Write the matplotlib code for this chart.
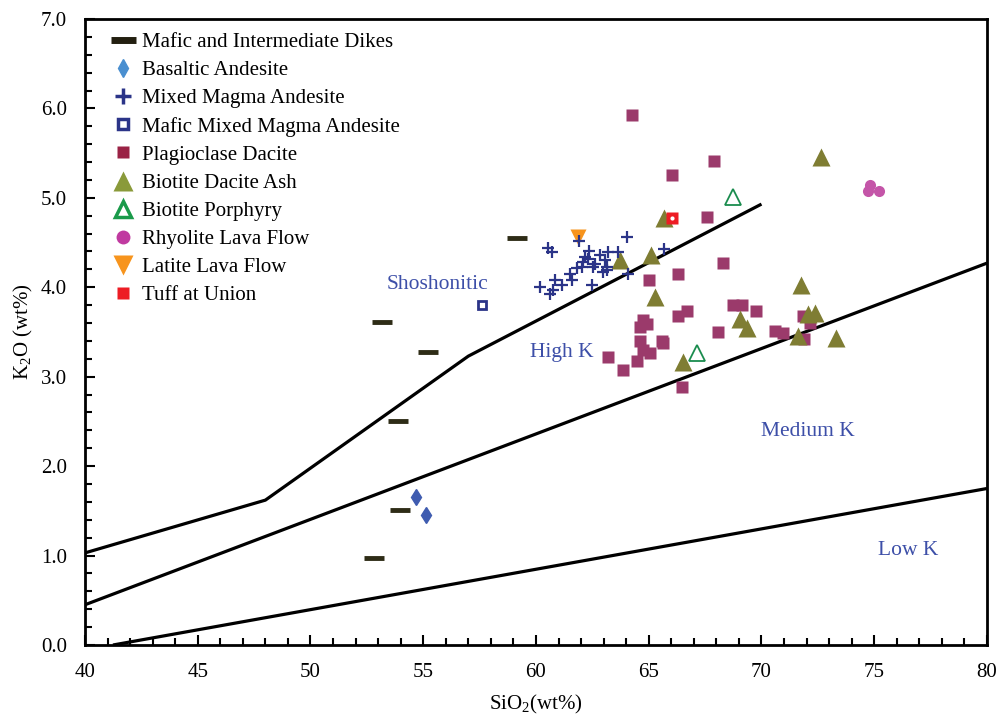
import matplotlib

matplotlib.use("Agg")

import matplotlib.pyplot as plt  # noqa: E402
from matplotlib.lines import Line2D  # noqa: E402
from matplotlib.ticker import MultipleLocator, FormatStrFormatter  # noqa: E402

plt.rcParams["font.family"] = ["Liberation Serif", "DejaVu Serif"]
plt.rcParams["mathtext.default"] = "regular"

# K2O vs SiO2 field boundaries
sho_x = [40, 48, 57, 70]
sho_y = [1.03, 1.62, 3.23, 4.93]
hk_x = [40, 80]
hk_y = [0.45, 4.27]
mk_x = [41.24, 80]
mk_y = [0.0, 1.75]

# samples (SiO2, K2O)
dike_si = [53.19, 55.19, 53.90, 53.99, 52.82, 59.18]
dike_k = [3.61, 3.28, 2.50, 1.51, 0.97, 4.55]

bas_si = [54.68, 55.12]
bas_k = [1.65, 1.45]

mix_si = [64.05, 60.55, 60.72, 61.92, 62.35, 63.21, 63.65, 65.68, 62.17, 62.84,
          63.06, 62.10, 62.03, 62.62, 62.54, 61.80, 62.98, 63.13, 61.51, 61.58,
          60.84, 61.14, 60.77, 60.18, 60.62, 62.47, 64.09, 63.16, 62.32]
mix_k = [4.56, 4.44, 4.39, 4.52, 4.41, 4.39, 4.39, 4.43, 4.34, 4.36,
         4.30, 4.28, 4.23, 4.26, 4.23, 4.21, 4.17, 4.19, 4.15, 4.08,
         4.08, 4.02, 3.97, 4.00, 3.92, 4.02, 4.15, 4.23, 4.32]

mafmix_si = [57.62]
mafmix_k = [3.80]

plag_si = [64.24, 67.89, 66.03, 67.60, 68.28, 66.31, 65.02, 66.68, 66.31, 68.72,
           69.14, 69.76, 64.76, 64.91, 64.61, 68.07, 64.61, 65.57, 65.65, 64.76,
           65.06, 63.21, 64.46, 63.87, 66.46, 70.60, 70.97, 71.82, 72.15, 71.89]
plag_k = [5.93, 5.41, 5.25, 4.79, 4.27, 4.15, 4.08, 3.74, 3.68, 3.80,
          3.80, 3.74, 3.63, 3.59, 3.56, 3.50, 3.40, 3.40, 3.38, 3.30,
          3.26, 3.22, 3.18, 3.07, 2.89, 3.51, 3.49, 3.68, 3.60, 3.42]

ash_si = [65.69, 63.73, 65.09, 65.29, 69.05, 69.34, 72.62, 71.77, 72.08, 72.37,
          71.63, 73.30, 66.50]
ash_k = [4.77, 4.30, 4.36, 3.89, 3.65, 3.54, 5.46, 4.02, 3.70, 3.71,
         3.46, 3.43, 3.17]

por_si = [68.75, 67.12]
por_k = [5.01, 3.26]

rhy_si = [74.81, 74.74, 75.22]
rhy_k = [5.14, 5.08, 5.08]

lat_si = [61.88]
lat_k = [4.56]

tuff_si = [66.02]
tuff_k = [4.77]

series_names = [
    "Mafic and Intermediate Dikes", "Basaltic Andesite", "Mixed Magma Andesite",
    "Mafic Mixed Magma Andesite", "Plagioclase Dacite", "Biotite Dacite Ash",
    "Biotite Porphyry", "Rhyolite Lava Flow", "Latite Lava Flow", "Tuff at Union",
]

fields = [("Shoshonitic", 55.65, 4.03), ("High K", 61.15, 3.27),
          ("Medium K", 72.06, 2.39), ("Low K", 76.5, 1.06)]

C_DIKE = "#2e2c16"
C_BAS = "#3f5cb0"
C_MIX = "#2b3488"
C_PLAG = "#9b3a6b"
C_ASH = "#7f7d33"
C_POR = "#1a8c4e"
C_RHY = "#c455a8"
C_LAT = "#f7941d"
C_TUFF = "#ed1c24"
C_FIELD = "#3d4fa8"

fig = plt.figure(figsize=(10.01, 7.24), dpi=100)
ax = fig.add_axes([0.0849, 0.1091, 0.9011, 0.8647])

for xs, ys in ((sho_x, sho_y), (hk_x, hk_y), (mk_x, mk_y)):
    ax.plot(xs, ys, color="black", lw=2.3, solid_capstyle="butt", zorder=2)

ax.plot(dike_si, dike_k, ls="none", marker="_", ms=15, mew=3.5, color=C_DIKE, zorder=3)
ax.plot(bas_si, bas_k, ls="none", marker="d", ms=8, color=C_BAS, mec=C_BAS, zorder=3)
ax.plot(plag_si, plag_k, ls="none", marker="s", ms=8, color=C_PLAG, mec="none", zorder=3)
ax.plot(ash_si, ash_k, ls="none", marker="^", ms=13, color=C_ASH, mec="none", zorder=4)
ax.plot(mix_si, mix_k, ls="none", marker="+", ms=9, mew=1.6, color=C_MIX, zorder=5)
ax.plot(mafmix_si, mafmix_k, ls="none", marker="s", ms=6, mfc="white", mec=C_MIX,
        mew=2, zorder=5)
ax.plot(por_si, por_k, ls="none", marker="^", ms=11, mfc="none", mec=C_POR, mew=1.3,
        zorder=5)
ax.plot(rhy_si, rhy_k, ls="none", marker="o", ms=8, color=C_RHY, mec="none", zorder=5)
ax.plot(lat_si, lat_k, ls="none", marker="v", ms=12, color=C_LAT, mec="none", zorder=4)
ax.plot(tuff_si, tuff_k, ls="none", marker="s", ms=8.5, color=C_TUFF, mec="none", zorder=6)
ax.plot(tuff_si, tuff_k, ls="none", marker="o", ms=3, color="white", mec="none", zorder=7)

for name, fx, fy in fields:
    ax.text(fx, fy, name, color=C_FIELD, fontsize=15.5, ha="center", va="center")

handles = [
    Line2D([], [], ls="none", marker="_", ms=18, mew=5, color="#231f10"),
    Line2D([], [], ls="none", marker="d", ms=9, color="#4a8fd0", mec="#4a8fd0"),
    Line2D([], [], ls="none", marker="+", ms=12, mew=2.5, color=C_MIX),
    Line2D([], [], ls="none", marker="s", ms=7, mfc="white", mec=C_MIX, mew=2.5),
    Line2D([], [], ls="none", marker="s", ms=9, color="#9a2245", mec="none"),
    Line2D([], [], ls="none", marker="^", ms=15, color="#8a9a3a", mec="none"),
    Line2D([], [], ls="none", marker="^", ms=12, mfc="white", mec="#1a9a4a", mew=2.5),
    Line2D([], [], ls="none", marker="o", ms=10, color="#c03aa0", mec="none"),
    Line2D([], [], ls="none", marker="v", ms=15, color=C_LAT, mec="none"),
    Line2D([], [], ls="none", marker="s", ms=8, color=C_TUFF, mec="none"),
]
leg = ax.legend(handles, series_names, loc="upper left", bbox_to_anchor=(0.012, 1.002),
                frameon=False, fontsize=15, handlelength=1.2, handletextpad=0.3,
                labelspacing=0.41, borderpad=0.2)

ax.set_xlim(40, 80)
ax.set_ylim(0, 7)
ax.xaxis.set_major_locator(MultipleLocator(5))
ax.xaxis.set_minor_locator(MultipleLocator(1))
ax.yaxis.set_major_locator(MultipleLocator(1))
ax.yaxis.set_minor_locator(MultipleLocator(0.2))
ax.yaxis.set_major_formatter(FormatStrFormatter("%.1f"))
ax.tick_params(which="both", direction="in", top=False, right=False, width=1.5)
ax.tick_params(which="major", length=7, labelsize=15, pad=13)
ax.tick_params(which="minor", length=5)
for sp in ax.spines.values():
    sp.set_linewidth(2)

ax.set_xlabel("SiO$_2$(wt%)", fontsize=15, labelpad=8)
ax.set_ylabel("K$_2$O (wt%)", fontsize=15, labelpad=4)

fig.savefig("out.png", dpi=100)
plt.close(fig)
